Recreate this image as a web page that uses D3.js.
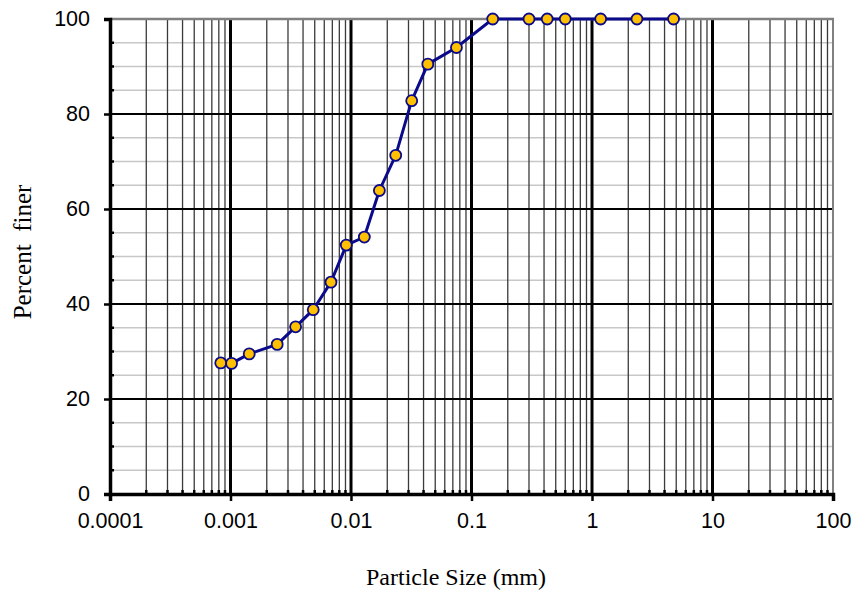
<!DOCTYPE html>
<html>
<head>
<meta charset="utf-8">
<script src="https://cdn.jsdelivr.net/npm/d3@7"></script>
<style>
  body { margin: 0; background: #fff; }
  svg { display: block; }
</style>
</head>
<body>
<script>
// particle size distribution
const sizes = [0.00083, 0.00102, 0.00143, 0.00244, 0.00347, 0.00486, 0.00682, 0.00914, 0.0129, 0.0172, 0.0235,
               0.0319, 0.0434, 0.075, 0.15, 0.3, 0.425, 0.6, 1.18, 2.36, 4.75];
const finer = [27.6, 27.5, 29.5, 31.5, 35.2, 38.8, 44.6, 52.4, 54.1, 63.9, 71.3,
               82.8, 90.5, 94.0, 100, 100, 100, 100, 100, 100, 100];
const xTicks = [0.0001, 0.001, 0.01, 0.1, 1, 10, 100];
const xTickLabels = ["0.0001", "0.001", "0.01", "0.1", "1", "10", "100"];
const yTicks = [0, 20, 40, 60, 80, 100];
const yMinor = [5, 10, 15, 25, 30, 35, 45, 50, 55, 65, 70, 75, 85, 90, 95];

const width = 857, height = 596;
const pLeft = 110, pRight = 833, pTop = 19, pBottom = 494;
const sans = "'Liberation Sans', Arial, sans-serif";
const serif = "'Liberation Serif', 'Times New Roman', serif";

const x = d3.scaleLog().domain([0.0001, 100]).range([pLeft, pRight]);
const y = d3.scaleLinear().domain([0, 100]).range([pBottom, pTop]);

// minor decade values 2..9
const xMinor = [];
xTicks.slice(0, -1).forEach(d => {
  for (let k = 2; k <= 9; k++) xMinor.push(k * d);
});

const svg = d3.select("body").append("svg")
  .attr("width", width).attr("height", height);

// light minor horizontal grid
svg.append("g").selectAll("line").data(yMinor).enter().append("line")
  .attr("x1", pLeft).attr("x2", pRight)
  .attr("y1", d => y(d)).attr("y2", d => y(d))
  .attr("stroke", "#c8c8c8").attr("stroke-width", 1.5);

// minor vertical grid
svg.append("g").selectAll("line").data(xMinor).enter().append("line")
  .attr("x1", d => x(d)).attr("x2", d => x(d))
  .attr("y1", pTop).attr("y2", pBottom)
  .attr("stroke", "#3a3a3a").attr("stroke-width", 1.3);

// major horizontal grid
svg.append("g").selectAll("line").data(yTicks.slice(1, -1)).enter().append("line")
  .attr("x1", pLeft).attr("x2", pRight)
  .attr("y1", d => y(d)).attr("y2", d => y(d))
  .attr("stroke", "#000").attr("stroke-width", 2);

// decade vertical grid
svg.append("g").selectAll("line").data(xTicks.slice(1, -1)).enter().append("line")
  .attr("x1", d => x(d)).attr("x2", d => x(d))
  .attr("y1", pTop).attr("y2", pBottom)
  .attr("stroke", "#000").attr("stroke-width", 3);

// top and right frame
svg.append("line").attr("x1", pLeft).attr("x2", pRight + 1).attr("y1", pTop).attr("y2", pTop)
  .attr("stroke", "#808080").attr("stroke-width", 2.5);
svg.append("line").attr("x1", pRight).attr("x2", pRight).attr("y1", pTop).attr("y2", pBottom)
  .attr("stroke", "#808080").attr("stroke-width", 2);

// y axis
const yAxis = svg.append("g").attr("transform", `translate(${pLeft},0)`)
  .call(d3.axisLeft(y).tickValues(yTicks).tickSize(6).tickPadding(14));
yAxis.select(".domain").attr("stroke", "#000").attr("stroke-width", 3.5);
yAxis.selectAll(".tick line").attr("stroke", "#000").attr("stroke-width", 2.5);
yAxis.selectAll("text").style("font-family", sans)
  .style("font-size", "21.5px").attr("fill", "#000");
svg.append("g").selectAll("line").data(yMinor).enter().append("line")
  .attr("x1", pLeft).attr("x2", pLeft + 4)
  .attr("y1", d => y(d)).attr("y2", d => y(d))
  .attr("stroke", "#000").attr("stroke-width", 2.5);

// x axis
const xAxis = svg.append("g").attr("transform", `translate(0,${pBottom})`)
  .call(d3.axisBottom(x).tickValues(xTicks).tickFormat((d, i) => xTickLabels[i]).tickSize(7).tickPadding(12));
xAxis.select(".domain").attr("stroke", "#000").attr("stroke-width", 3.5);
xAxis.selectAll(".tick line").attr("stroke", "#000").attr("stroke-width", 2.5);
xAxis.selectAll("text").style("font-family", sans)
  .style("font-size", "21.5px").attr("fill", "#000");
svg.append("g").selectAll("line").data(xMinor).enter().append("line")
  .attr("x1", d => x(d)).attr("x2", d => x(d))
  .attr("y1", pBottom).attr("y2", pBottom - 4)
  .attr("stroke", "#000").attr("stroke-width", 2.5);

// curve
const pts = sizes.map((s, i) => [s, finer[i]]);
svg.append("path").datum(pts)
  .attr("fill", "none").attr("stroke", "#0a0a8a").attr("stroke-width", 3)
  .attr("d", d3.line().x(d => x(d[0])).y(d => y(d[1])));

svg.append("g").selectAll("circle").data(pts).enter().append("circle")
  .attr("cx", d => x(d[0])).attr("cy", d => y(d[1])).attr("r", 5.5)
  .attr("fill", "#ffc000").attr("stroke", "#0a0a8a").attr("stroke-width", 1.8);

// axis titles
svg.append("text").attr("x", 456).attr("y", 585).attr("text-anchor", "middle")
  .style("font-family", serif).style("font-size", "24px")
  .text("Particle Size (mm)");
svg.append("text").attr("transform", "translate(31,252) rotate(-90)").attr("text-anchor", "middle")
  .style("font-family", serif).style("font-size", "25px")
  .style("white-space", "pre")
  .text("Percent  finer");
</script>
</body>
</html>
